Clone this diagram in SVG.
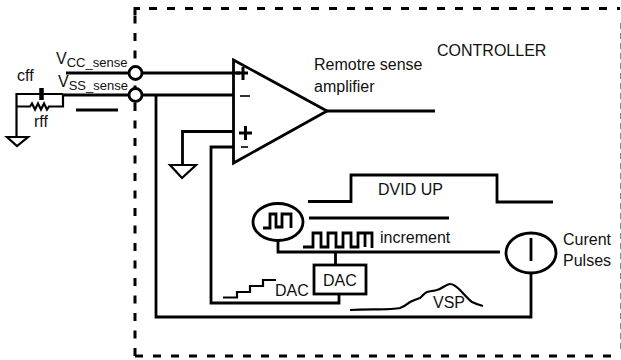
<svg xmlns="http://www.w3.org/2000/svg" width="621" height="360" viewBox="0 0 621 360">
<style>
text{font-family:"Liberation Sans",Arial,sans-serif;font-size:16px;fill:#111}
.sm{font-size:15px}
.sub{font-size:13px}
.w{fill:none;stroke:#000;stroke-width:2.8;stroke-linejoin:miter}
.t{fill:none;stroke:#000;stroke-width:2.200}
.b{fill:#fff;stroke:#000;stroke-width:2.800}
.d{fill:none;stroke:#000;stroke-width:3;stroke-dasharray:8 10}
</style>
<g id="controller-boundary">
<path class="d" d="M135 356V9" stroke-dasharray="8 9.500" style="stroke-dasharray:8 9.500"/>
<path class="d" d="M149 8.500H620"/>
<path class="d" d="M153 356H620"/>
<path d="M135 356H143M135 15V8.500H140" fill="none" stroke="#000" stroke-width="3"/>
<path d="M620.500 23V350" fill="none" stroke="#888" stroke-width="1" stroke-dasharray="6 4"/>
</g>
<g id="connectors">
<path class="w" d="M66 73H240M63 95H234M76 110H118M156 95V317H531V272"/>
<path class="w" d="M233 131.500H182.500V166M233 147H211V303H339V294"/>
<path class="w" d="M327 111H435"/>
<path class="w" d="M278 240V252H500M335.500 252V265"/>
<path class="w" d="M308 201.500H351V175H497V202H553M309 218H449"/>
</g>
<g id="feedback-network">
<path class="t" d="M63 94H16.500V137M16.500 106.500H30l2-3 3 6 3-6 3 6 3-6 3 6 2-3H63V94"/>
<path d="M41.500 88V100" stroke="#000" stroke-width="4.500" fill="none"/>
<path class="t" d="M7 137H28L17 146Z"/>
<text x="17" y="81">cff</text>
<text x="34" y="127">rff</text>
</g>
<g id="sense-labels">
<text x="56" y="64">V<tspan class="sub" dy="3">CC_sense</tspan></text>
<text x="58" y="87">V<tspan class="sub" dy="3">SS_sense</tspan></text>
</g>
<g id="sense-nodes">
<circle class="b" cx="135.500" cy="73" r="6.500"/>
<circle class="b" cx="135.500" cy="95" r="6.500"/>
</g>
<g id="amplifier">
<path class="w" d="M233.500 60L327 111L233.500 163Z"/>
<path d="M236 73H248M243 67V80" fill="none" stroke="#000" stroke-width="3"/>
<path d="M240 96H250M241 147H248" fill="none" stroke="#333" stroke-width="1.800"/>
<path d="M239 133H252M245.500 126V140" fill="none" stroke="#000" stroke-width="3"/>
<text x="314" y="70">Remotre sense</text>
<text x="314" y="92">amplifier</text>
</g>
<g id="ground">
<path class="t" d="M170 165H196L182 178Z"/>
</g>
<g id="controller-label"><text x="437" y="56">CONTROLLER</text></g>
<g id="dvid-up"><text x="378" y="195">DVID UP</text></g>
<g id="clock">
<ellipse class="b" cx="278" cy="222" rx="25" ry="18.500"/>
<path class="w" d="M263 228H270V214H276V227H282V214H291V228"/>
</g>
<g id="increment">
<path class="w" d="M303 247H313V233H321V247H328V233H336V247H343V233H351V247H358V233H372V248"/>
<path class="w" d="M365 233V247"/>
<text x="380" y="243">increment</text>
</g>
<g id="dac-block">
<rect class="b" x="314" y="265" width="52" height="29"/>
<text x="323" y="286">DAC</text>
</g>
<g id="dac-stairs">
<path class="t" d="M223 297.500H237V292H250V286H263V280H276"/>
<text x="275" y="296">DAC</text>
</g>
<g id="vsp">
<path class="t" d="M350 310C370 309 392 310 400 308C406 306 407 304 410 302C414 300 417 299 420 298C423 296 424 293 427 292C430 291 434 291 437 290C442 289 446 284 450 284C454 284 457 287 460 290C464 294 468 299 472 302C476 304 479 305 483 306" />
<text x="433" y="308">VSP</text>
</g>
<g id="current-source">
<ellipse class="b" cx="531" cy="253" rx="25" ry="20"/>
<path class="w" d="M531 238V261"/>
<text x="563" y="245">Curent</text>
<text x="563" y="266">Pulses</text>
</g>
</svg>
